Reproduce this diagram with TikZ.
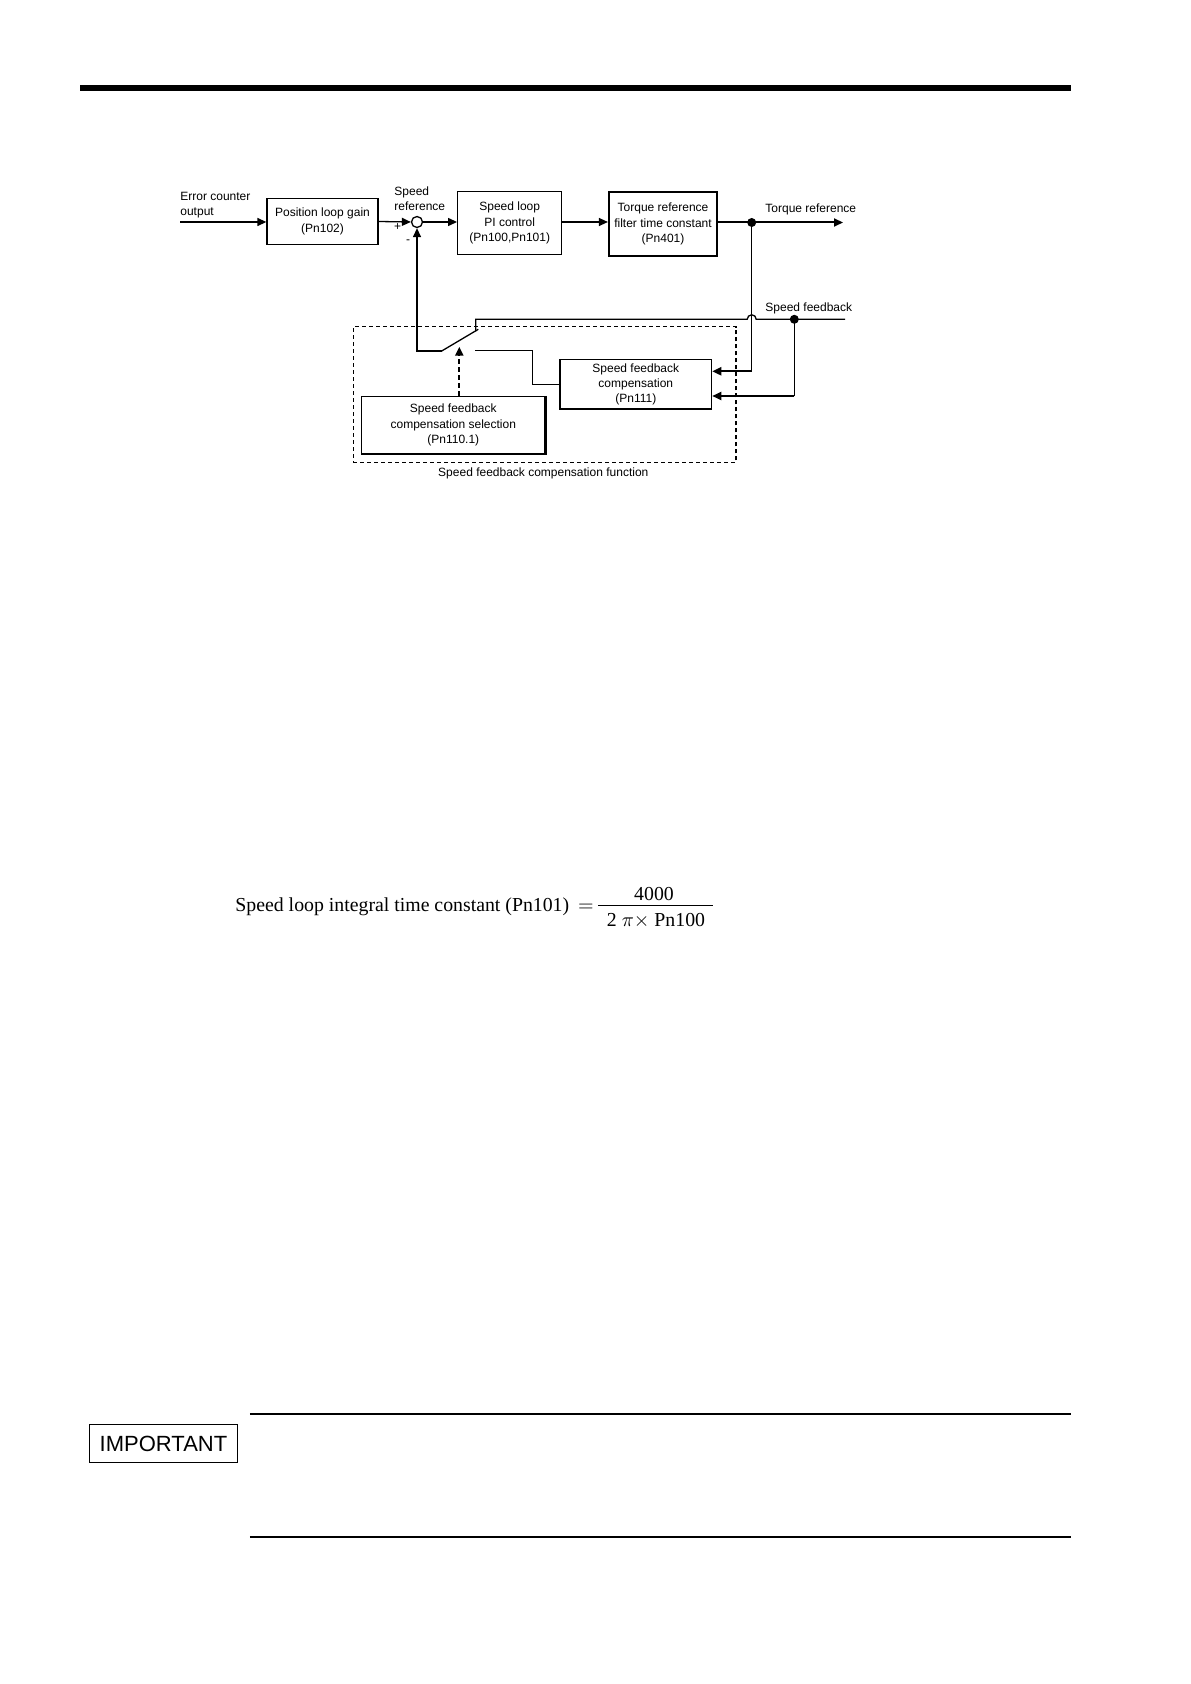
\documentclass[tikz,border=0pt]{standalone}
\usepackage{fontspec}
\setmainfont{Liberation Sans}
\newfontfamily\tms{Liberation Serif}
\usetikzlibrary{arrows.meta,calc}
\begin{document}
\begin{tikzpicture}[x=0.5pt,y=-0.5pt,
  lbl/.style={font=\fontsize{6}{7.6}\selectfont, inner sep=0pt, align=center},
  blk/.style={draw, line width=0.65pt, inner sep=0pt, align=center, font=\fontsize{6}{7.6}\selectfont},
  ln/.style={line width=0.65pt},
  thk/.style={line width=1pt},
  arr/.style={ln, -{Triangle[length=4.5pt,width=4pt]}},
  thkarr/.style={thk, -{Triangle[length=4.5pt,width=4pt]}},
  dasharr/.style={line width=1pt, dash pattern=on 2.5pt off 1.5pt, -{Triangle[length=4.5pt,width=4pt]}},
  dashbox/.style={draw, line width=0.6pt, dash pattern=on 2pt off 1.5pt, inner sep=0pt},
  dotn/.style={circle, fill, inner sep=0pt, minimum size=4.5pt},
  frm/.style={inner sep=0pt, font=\tms\fontsize{9.9}{12}\selectfont}
]
\fill[white] (0,0) rectangle (1190,1684);
\useasboundingbox (0,0) rectangle (1190,1684);

% header bar
\fill (80,85) rectangle (1071,91);

% dashed function frame
\node[dashbox, minimum width=191.35pt, minimum height=68pt] (frame) at (544.65,394.7) {};
\node[lbl] (framelbl) at (543.3,473.5) {Speed feedback compensation function};

% forward path
\node[lbl, anchor=west, align=left] (eco) at (180,205.5) {Error counter\\output};
\coordinate (in) at (180,222);
\node[blk, minimum width=55.5pt, minimum height=23pt] (plg) at (322.5,221.5) {Position loop gain\\(Pn102)};
\node[draw, circle, ln, minimum size=5.5pt, inner sep=0pt] (sum) at (417,222) {};
\node[lbl, anchor=west, align=left] (sref) at (394,199) {Speed\\reference};
\node[lbl] (plus) at (397.5,227) {+};
\node[lbl] (minus) at (408,242) {-};
\node[blk, minimum width=52pt, minimum height=31.7pt] (slp) at (509.7,223) {Speed loop\\PI control\\(Pn100,Pn101)};
\node[blk, line width=1.1pt, minimum width=54pt, minimum height=32pt] (trq) at (663,224) {Torque reference\\filter time constant\\(Pn401)};
\node[dotn] (d1) at (751.7,222.5) {};
\coordinate (tout) at (843,222.5);
\node[lbl, anchor=west] (tlbl) at (765,209) {Torque reference};

\draw[arr] (in) -- (plg.west |- in);
\draw[arr] (plg.east) -- (sum.west);
\draw[arr] (sum.east) -- (sum.east -| slp.west);
\draw[arr] (slp.east |- sum) -- (sum -| trq.west);
\draw[thk] (trq.east |- d1) -- (d1.center);
\draw[thkarr] (d1.center) -- (tout);

% compensation blocks
\node[blk, minimum width=75.8pt, minimum height=24.8pt] (sfc) at (635.8,384.2) {Speed feedback\\compensation\\(Pn111)};
\node[blk, line width=0.7pt, minimum width=91.7pt, minimum height=28.3pt] (sel) at (453.3,425) {Speed feedback\\compensation selection\\(Pn110.1)};
\draw[line width=1pt] (sel.north east) -- (sel.south east) -- (sel.south west);

% speed feedback line
\node[dotn] (d2) at (794.3,319.3) {};
\coordinate (sfin) at (845,319.3);
\node[lbl, anchor=west] (sflbl) at (765,308) {Speed feedback};
\coordinate (jmp) at (756.2,319.3);
\coordinate (ctop) at (475.7,319.3);
\coordinate (cend) at (475.7,331.5);
\draw[ln] (sfin) -- (d2.center) -- (jmp) arc[start angle=0,end angle=180,radius=2.25pt] -- (ctop) -- (cend);

\coordinate (c1) at (751.7,371.3);
\draw[ln] (d1.center) -- (c1);
\draw[thkarr] (c1) -- (c1 -| sfc.east);
\coordinate (c2) at (794.3,396);
\draw[ln] (d2.center) -- (c2);
\draw[thkarr] (c2) -- (c2 -| sfc.east);

% switch
\coordinate (piv) at (441.7,351);
\coordinate (cl) at (417,351);
\coordinate (btip) at (478.3,329.3);
\draw[arr] (piv) -- (cl) -- (sum.south);
\draw[ln] (piv) -- (btip);
\coordinate (lc) at (475,350.3);
\coordinate (lc2) at (532.7,384.2);
\draw[ln] (lc) -| (lc2) -- (sfc.west);
\coordinate (sw) at (459.3,346.7);
\draw[dasharr] (sel.north -| sw) -- (sw);

% formula
\node[frm, anchor=base west] (ftxt) at (235,911) {Speed loop integral time constant (Pn101)};
\node[anchor=base, inner sep=0pt] (feq) at (586,911) {$=$};
\coordinate (fb1) at (598,905);
\coordinate (fb2) at (713,905);
\draw[line width=0.5pt] (fb1) -- (fb2);
\node[frm, anchor=base] (fnum) at (654,900) {4000};
\node[frm, anchor=base] (fden) at (656,926) {2 $\pi\times$ Pn100};

% important box and rules
\draw[line width=1.2pt] (249.8,1414) -- (1071,1414);
\draw[line width=1.2pt] (249.8,1536.7) -- (1071,1536.7);
\node[draw, line width=0.6pt, minimum width=73.9pt, minimum height=19.2pt, inner sep=0pt, font=\fontsize{11}{13}\selectfont] (imp) at (163.5,1443.5) {IMPORTANT};
\end{tikzpicture}
\end{document}
